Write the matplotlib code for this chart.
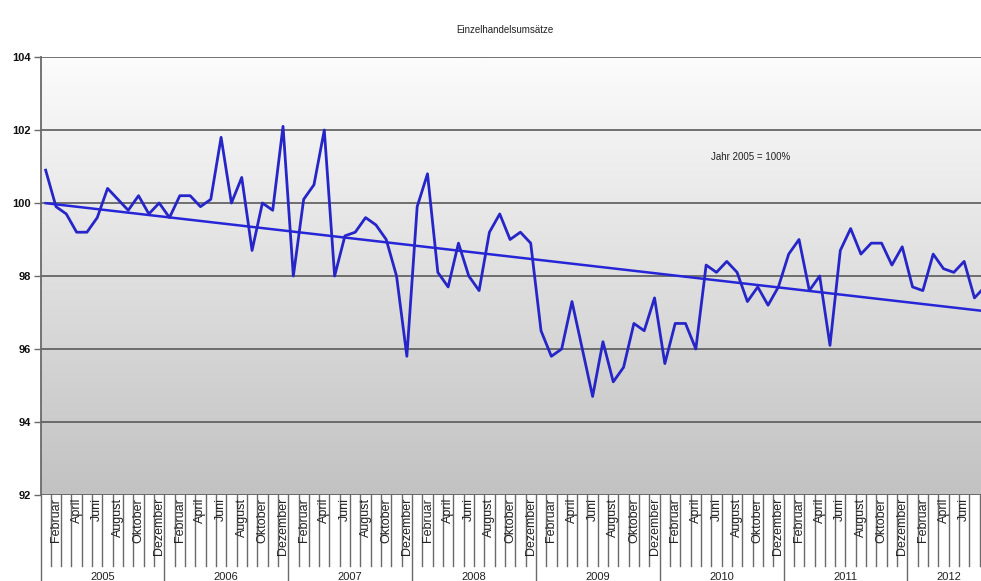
import numpy as np
import matplotlib
matplotlib.use("Agg")
import matplotlib.pyplot as plt
from matplotlib.colors import LinearSegmentedColormap
from matplotlib.transforms import blended_transform_factory

plt.rcParams['font.family'] = ['Liberation Sans', 'DejaVu Sans']

title = "Einzelhandelsumsätze"
note = "Jahr 2005 = 100%"
years = ["2005", "2006", "2007", "2008", "2009", "2010", "2011", "2012"]
month_names = ["Januar", "Februar", "März", "April", "Mai", "Juni", "Juli",
               "August", "September", "Oktober", "November", "Dezember"]

v2005 = [100.9, 99.9, 99.7, 99.2, 99.2, 99.6, 100.4, 100.1, 99.8, 100.2, 99.7, 100.0]
v2006 = [99.6, 100.2, 100.2, 99.9, 100.1, 101.8, 100.0, 100.7, 98.7, 100.0, 99.8, 102.1]
v2007 = [98.0, 100.1, 100.5, 102.0, 98.0, 99.1, 99.2, 99.6, 99.4, 99.0, 98.0, 95.8]
v2008 = [99.9, 100.8, 98.1, 97.7, 98.9, 98.0, 97.6, 99.2, 99.7, 99.0, 99.2, 98.9]
v2009 = [96.5, 95.8, 96.0, 97.3, 96.0, 94.7, 96.2, 95.1, 95.5, 96.7, 96.5, 97.4]
v2010 = [95.6, 96.7, 96.7, 96.0, 98.3, 98.1, 98.4, 98.1, 97.3, 97.7, 97.2, 97.7]
v2011 = [98.6, 99.0, 97.6, 98.0, 96.1, 98.7, 99.3, 98.6, 98.9, 98.9, 98.3, 98.8]
v2012 = [97.7, 97.6, 98.6, 98.2, 98.1, 98.4, 97.4, 97.7]

yearly = [v2005, v2006, v2007, v2008, v2009, v2010, v2011, v2012]
values = np.array([v for yr in yearly for v in yr])
n = len(values)
x = np.arange(n)
labels = [month_names[i % 12] for i in range(n)]

y_ticks = [92, 94, 96, 98, 100, 102, 104]

W, H = 981, 581
fig = plt.figure(figsize=(W / 100, H / 100), dpi=100)
left_px, top_px, bottom_px = 40.5, 57, 495
month_px = 10.32
ax = fig.add_axes([left_px / W, 1 - bottom_px / H, n * month_px / W, (bottom_px - top_px) / H])

ax.set_xlim(-0.5, n - 0.5)
ax.set_ylim(92, 104)

# gradient background
cmap = LinearSegmentedColormap.from_list("bg", ["#c2c2c2", "#fcfcfc"])
grad = np.linspace(0, 1, 256).reshape(-1, 1)
ax.imshow(grad, extent=[-0.5, n - 0.5, 92, 104], origin="lower", aspect="auto",
          cmap=cmap, zorder=0)

# gridlines
for yv in y_ticks:
    ax.axhline(yv, color="#5a5a5a", lw=1.2, zorder=1)

# data and trend
ax.plot(x, values, color="#2626c8", lw=2.0, zorder=3)
coef = np.polyfit(x, values, 1)
ax.plot(x, np.polyval(coef, x), color="#2626d8", lw=1.8, zorder=2)

for s in ["top", "right", "bottom"]:
    ax.spines[s].set_visible(False)
ax.spines["left"].set_color("#6a6a6a")
ax.spines["left"].set_linewidth(1.3)

ax.set_yticks(y_ticks)
ax.set_yticklabels([str(v) for v in y_ticks], fontsize=8, color="#111111",
                   fontweight="bold")
ax.tick_params(axis="y", length=5, width=1, color="#6a6a6a", pad=2)

# every second month labelled; the last (cut by the image edge) is omitted
tick_idx = list(range(1, n - 1, 2))
ax.set_xticks(tick_idx)
ax.set_xticklabels([labels[i] for i in tick_idx], rotation=90, fontsize=9,
                   color="#222222")
ax.tick_params(axis="x", length=0, pad=2)

trans = blended_transform_factory(ax.transData, ax.transAxes)
ax_h = bottom_px - top_px
sep_short = -(566 - bottom_px) / ax_h
sep_long = -(H - bottom_px + 2) / ax_h
for b in np.arange(-0.5, n, 1.0):
    is_year = (b + 0.5) % 12 == 0
    ax.plot([b, b], [0, sep_long if is_year else sep_short], transform=trans,
            color="#6a6a6a", lw=1.0, clip_on=False, zorder=1)

for k, yr in enumerate(years):
    start = 12 * k
    end = min(12 * (k + 1), n)
    ax.text((start + end - 1) / 2, -(577 - bottom_px) / ax_h, yr, transform=trans,
            ha="center", va="center", fontsize=8, color="#222222", clip_on=False)

fig.text(505 / W, 1 - 30 / H, title, ha="center", va="center", fontsize=7,
         color="#222222")
ax.text(751 / W, 1 - 157 / H, note, transform=fig.transFigure, ha="center",
        va="center", fontsize=7, color="#222222")

fig.savefig("out.png", dpi=100)
